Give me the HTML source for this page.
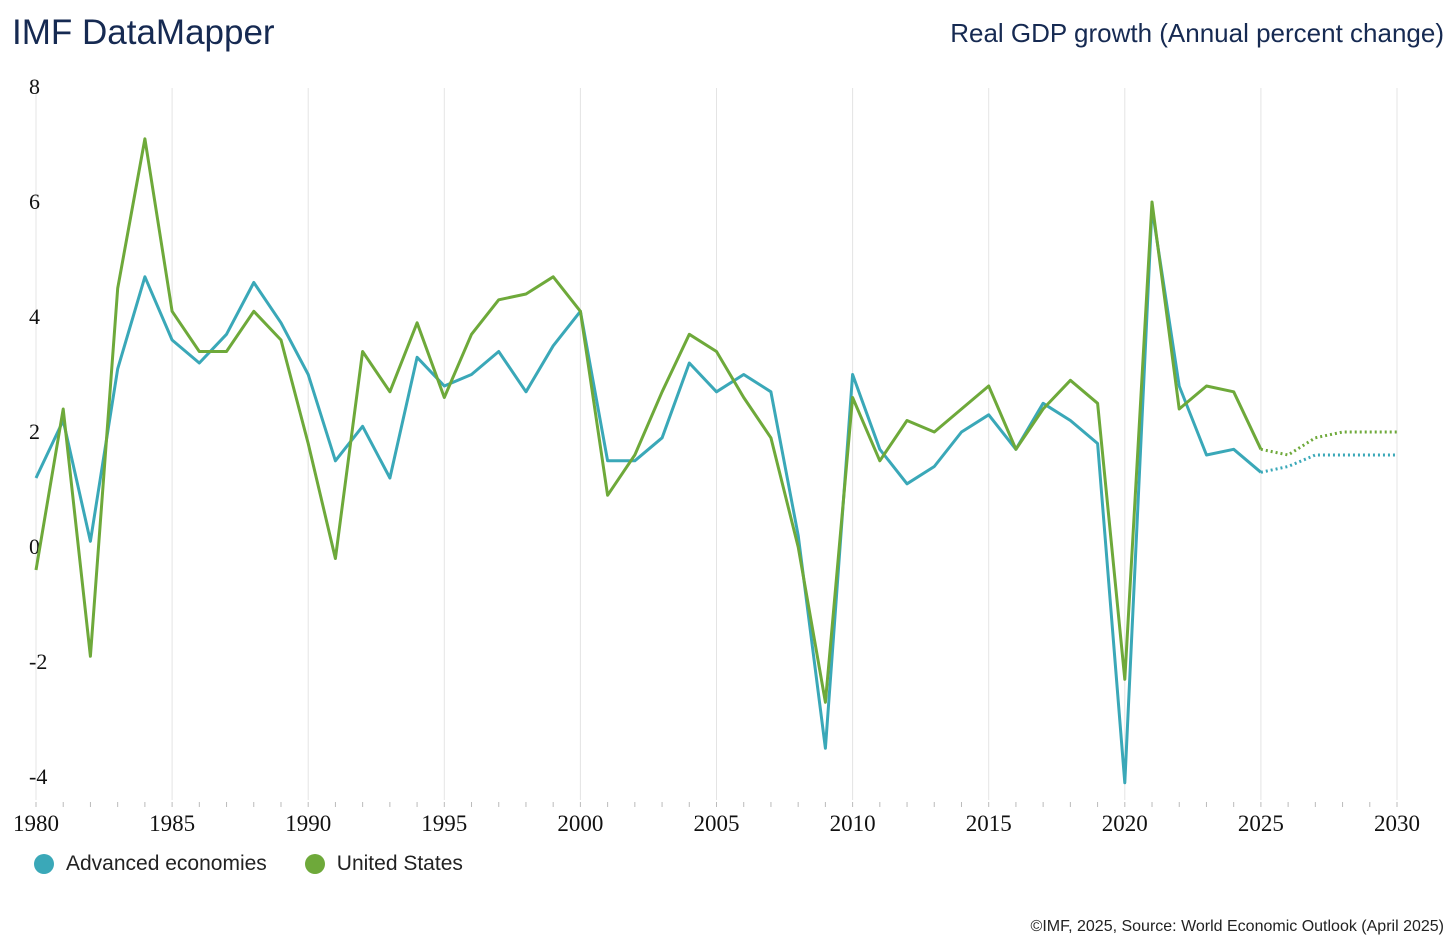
<!DOCTYPE html>
<html><head><meta charset="utf-8"><style>
body{margin:0;background:#fff;width:1456px;height:950px;overflow:hidden;font-family:"Liberation Sans",sans-serif}
.t{position:absolute;color:#162a52}
</style></head><body>
<div class="t" style="left:12px;top:13px;font-size:35px">IMF DataMapper</div>
<div class="t" style="right:12px;top:18px;font-size:26px">Real GDP growth (Annual percent change)</div>
<svg id="c" width="1456" height="950" style="position:absolute;left:0;top:0"></svg>
<div style="position:absolute;left:34px;top:852px;font-size:21px;color:#222;display:flex;align-items:center">
<span style="display:flex;align-items:center;margin-right:38px"><span style="width:20px;height:20px;border-radius:50%;background:#3aa8b8;display:inline-block;margin-right:12px"></span>Advanced economies</span>
<span style="display:flex;align-items:center"><span style="width:20px;height:20px;border-radius:50%;background:#6ea93a;display:inline-block;margin-right:12px"></span>United States</span>
</div>
<div style="position:absolute;right:12px;top:918px;font-size:16px;color:#222">©IMF, 2025, Source: World Economic Outlook (April 2025)</div>
<script>
const years=[];for(let y=1980;y<=2030;y++)years.push(y);
const advanced=[1.2,2.2,0.1,3.1,4.7,3.6,3.2,3.7,4.6,3.9,3.0,1.5,2.1,1.2,3.3,2.8,3.0,3.4,2.7,3.5,4.1,1.5,1.5,1.9,3.2,2.7,3.0,2.7,0.2,-3.5,3.0,1.7,1.1,1.4,2.0,2.3,1.7,2.5,2.2,1.8,-4.1,5.9,2.8,1.6,1.7,1.3,1.4,1.6,1.6,1.6,1.6];
const us=[-0.4,2.4,-1.9,4.5,7.1,4.1,3.4,3.4,4.1,3.6,1.8,-0.2,3.4,2.7,3.9,2.6,3.7,4.3,4.4,4.7,4.1,0.9,1.6,2.7,3.7,3.4,2.6,1.9,0.0,-2.7,2.6,1.5,2.2,2.0,2.4,2.8,1.7,2.4,2.9,2.5,-2.3,6.0,2.4,2.8,2.7,1.7,1.6,1.9,2.0,2.0,2.0];
const yTicks=[8,6,4,2,0,-2,-4];
const xTicks=[1980,1985,1990,1995,2000,2005,2010,2015,2020,2025,2030];
const lastActual=2025;
const X=y=>36+(y-1980)*(1397-36)/50;
const Y=v=>547-v*57.5;
const svg=document.getElementById('c');const NS='http://www.w3.org/2000/svg';
function el(t,a){const e=document.createElementNS(NS,t);for(const k in a)e.setAttribute(k,a[k]);svg.appendChild(e);return e;}
xTicks.forEach(t=>{const g=el('line',{x1:X(t),x2:X(t),y1:88,y2:800,stroke:'#e4e4e4','stroke-width':1});


const tx=el('text',{x:X(t),y:831,'text-anchor':'middle','font-size':23,'font-family':'Liberation Serif, serif',fill:'#111'});tx.textContent=t;

});
years.forEach(y=>{const m=el('line',{x1:X(y),x2:X(y),y1:802,y2:807,stroke:'#bbb','stroke-width':1});

});
yTicks.forEach(v=>{const tx=el('text',{x:29,y:Y(v)+7,'font-size':22,'font-family':'Liberation Serif, serif',fill:'#111'});tx.textContent=v;

});
function series(data,color,name){
 const a=[],p=[];
 years.forEach((y,i)=>{const pt=X(y).toFixed(1)+','+Y(data[i]).toFixed(1);if(y<=lastActual)a.push(pt);if(y>=lastActual)p.push(pt);});
 const l=el('polyline',{points:a.join(' '),fill:'none',stroke:color,'stroke-width':3,'stroke-linejoin':'round'});
 
 
 const d=el('polyline',{points:p.join(' '),fill:'none',stroke:color,'stroke-width':3,'stroke-dasharray':'2,3'});
 
 
}
series(advanced,'#3aa8b8','advanced-economies');
series(us,'#6ea93a','united-states');
</script>
</body></html>
